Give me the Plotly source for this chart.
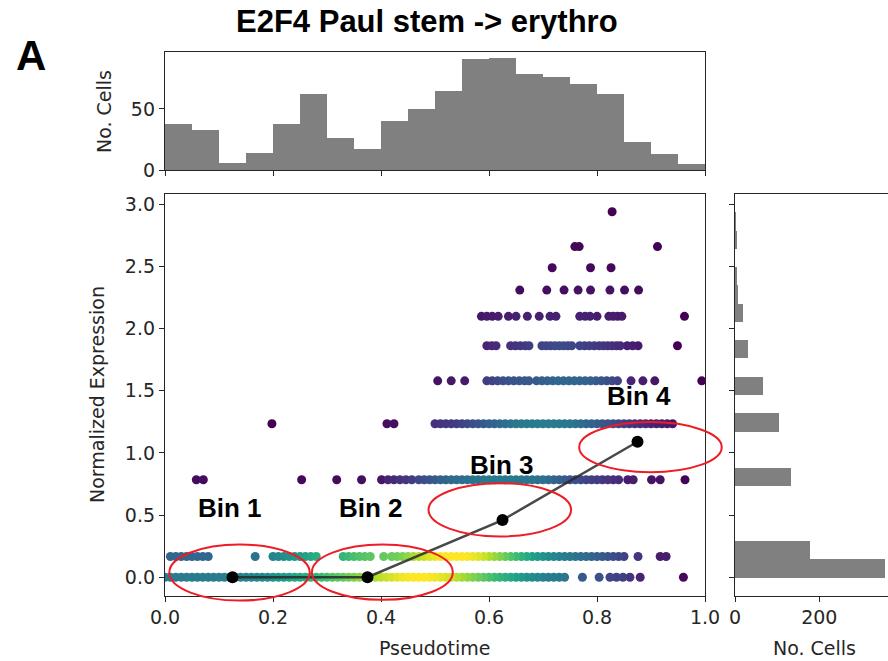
import plotly.graph_objects as go

# ---------------- data ----------------
# Top histogram: cells per pseudotime bin (20 bins over 0..1)
top_bin_left = [0.00, 0.05, 0.10, 0.15, 0.20, 0.25, 0.30, 0.35, 0.40, 0.45,
                0.50, 0.55, 0.60, 0.65, 0.70, 0.75, 0.80, 0.85, 0.90, 0.95]
top_counts = [38, 33, 6, 14, 38, 62, 26, 17, 40, 50,
              65, 91, 92, 79, 76, 70, 62, 23, 13, 5]

# Right histogram: cells per expression bin (20 bins over 0..2.94)
right_bin_left = [0.000, 0.147, 0.294, 0.441, 0.588, 0.735, 0.882, 1.029, 1.176, 1.323,
                  1.470, 1.617, 1.764, 1.911, 2.058, 2.205, 2.352, 2.499, 2.646, 2.793]
right_counts = [355, 178, 0, 0, 0, 132, 0, 0, 105, 0,
                66, 0, 32, 0, 18, 8, 3, 0, 3, 1]

# Scatter: expression levels and pseudotime positions / density colour per level
lvl_0 = 0.0
x_0 = [0.00, 0.01, 0.02, 0.03, 0.04, 0.05, 0.06, 0.07, 0.08, 0.09,
       0.10, 0.11, 0.12, 0.13, 0.14, 0.15, 0.16, 0.17, 0.18, 0.19,
       0.20, 0.21, 0.22, 0.23, 0.24, 0.25, 0.26, 0.27, 0.28, 0.29,
       0.30, 0.31, 0.32, 0.33, 0.34, 0.35, 0.36, 0.37, 0.38, 0.39,
       0.40, 0.41, 0.42, 0.43, 0.44, 0.45, 0.46, 0.47, 0.48, 0.49,
       0.50, 0.51, 0.52, 0.53, 0.54, 0.55, 0.56, 0.57, 0.58, 0.59,
       0.60, 0.61, 0.62, 0.63, 0.64, 0.65, 0.66, 0.67, 0.68, 0.69,
       0.70, 0.71, 0.72, 0.73, 0.74,
       0.773, 0.804, 0.824, 0.836, 0.848, 0.861, 0.880, 0.960]
c_0 = [0.42, 0.42, 0.42, 0.42, 0.42, 0.42, 0.42, 0.42, 0.42, 0.42,
       0.43, 0.43, 0.44, 0.44, 0.45, 0.45, 0.46, 0.46, 0.47, 0.48,
       0.50, 0.52, 0.54, 0.56, 0.58, 0.60, 0.62, 0.64, 0.66, 0.68,
       0.70, 0.72, 0.74, 0.76, 0.78, 0.80, 0.82, 0.84, 0.86, 0.88,
       0.90, 0.92, 0.94, 0.96, 0.98, 0.99, 1.00, 1.00, 1.00, 0.99,
       0.98, 0.96, 0.94, 0.92, 0.89, 0.86, 0.83, 0.80, 0.77, 0.74,
       0.71, 0.68, 0.65, 0.62, 0.59, 0.56, 0.53, 0.50, 0.48, 0.46,
       0.44, 0.42, 0.41, 0.40, 0.39,
       0.28, 0.25, 0.21, 0.20, 0.19, 0.15, 0.10, 0.02]

lvl_1 = 0.167
x_1 = [0.01, 0.02, 0.03, 0.04, 0.05, 0.06, 0.07, 0.08,
       0.167,
       0.20, 0.21, 0.22, 0.23, 0.24, 0.25, 0.26, 0.27, 0.28,
       0.33, 0.34, 0.35, 0.36, 0.37, 0.38,
       0.405, 0.42,
       0.43, 0.44, 0.45, 0.46, 0.47, 0.48, 0.49, 0.50, 0.51, 0.52,
       0.53, 0.54, 0.55, 0.56, 0.57, 0.58, 0.59, 0.60, 0.61, 0.62,
       0.63, 0.64, 0.65, 0.66, 0.67, 0.68, 0.69, 0.70, 0.71, 0.72,
       0.73, 0.74, 0.75, 0.76, 0.77, 0.78, 0.79, 0.80, 0.81, 0.82,
       0.83, 0.84, 0.85,
       0.876, 0.917, 0.928]
c_1 = [0.33, 0.33, 0.33, 0.33, 0.33, 0.33, 0.33, 0.33,
       0.38,
       0.45, 0.47, 0.49, 0.51, 0.53, 0.55, 0.57, 0.59, 0.61,
       0.66, 0.68, 0.70, 0.72, 0.73, 0.74,
       0.76, 0.77,
       0.78, 0.80, 0.83, 0.86, 0.89, 0.92, 0.95, 0.97, 0.99, 1.00,
       1.00, 1.00, 1.00, 0.99, 0.97, 0.95, 0.92, 0.88, 0.84, 0.80,
       0.76, 0.72, 0.68, 0.64, 0.60, 0.56, 0.53, 0.50, 0.48, 0.46,
       0.44, 0.42, 0.40, 0.38, 0.36, 0.34, 0.32, 0.30, 0.28, 0.26,
       0.24, 0.22, 0.20,
       0.15, 0.08, 0.08]

lvl_2 = 0.784
x_2 = [0.058, 0.071, 0.253, 0.318, 0.364, 0.401,
       0.413, 0.424, 0.435, 0.446, 0.457,
       0.47, 0.48, 0.49, 0.50, 0.51, 0.52, 0.53, 0.54, 0.55, 0.56,
       0.57, 0.58, 0.59, 0.60, 0.61, 0.62, 0.63, 0.64, 0.65, 0.66,
       0.67, 0.68, 0.69, 0.70, 0.71, 0.72, 0.73, 0.74, 0.75, 0.76,
       0.77, 0.78, 0.79, 0.80, 0.81, 0.82, 0.83, 0.84,
       0.857, 0.867, 0.901, 0.917, 0.963]
c_2 = [0.03, 0.03, 0.02, 0.03, 0.04, 0.06,
       0.10, 0.12, 0.14, 0.16, 0.18,
       0.22, 0.24, 0.26, 0.28, 0.30, 0.32, 0.34, 0.35, 0.36, 0.37,
       0.38, 0.39, 0.40, 0.40, 0.41, 0.41, 0.41, 0.41, 0.40, 0.40,
       0.39, 0.38, 0.37, 0.36, 0.34, 0.32, 0.30, 0.28, 0.26, 0.24,
       0.22, 0.20, 0.19, 0.18, 0.16, 0.15, 0.13, 0.12,
       0.08, 0.08, 0.05, 0.05, 0.01]

lvl_3 = 1.235
x_3 = [0.198, 0.411, 0.424,
       0.50, 0.51, 0.52, 0.53, 0.54, 0.55, 0.56, 0.57, 0.58, 0.59,
       0.60, 0.61, 0.62, 0.63, 0.64, 0.65, 0.66, 0.67, 0.68, 0.69,
       0.70, 0.71, 0.72, 0.73, 0.74, 0.75, 0.76, 0.77, 0.78, 0.79,
       0.80, 0.81, 0.82, 0.83, 0.84, 0.85, 0.86, 0.87, 0.88, 0.89,
       0.90, 0.91, 0.92, 0.93, 0.94]
c_3 = [0.00, 0.04, 0.04,
       0.14, 0.15, 0.16, 0.17, 0.18, 0.20, 0.22, 0.24, 0.26, 0.28,
       0.30, 0.32, 0.34, 0.36, 0.38, 0.39, 0.40, 0.41, 0.41, 0.42,
       0.42, 0.42, 0.41, 0.41, 0.40, 0.39, 0.37, 0.35, 0.33, 0.31,
       0.29, 0.27, 0.25, 0.23, 0.21, 0.19, 0.17, 0.15, 0.13, 0.11,
       0.10, 0.09, 0.08, 0.07, 0.06]

lvl_4 = 1.58
x_4 = [0.505, 0.530, 0.555,
       0.596, 0.606, 0.616, 0.626, 0.636, 0.646, 0.656, 0.666, 0.674,
       0.688, 0.698, 0.708, 0.718, 0.728, 0.738, 0.748, 0.758,
       0.768, 0.778, 0.788, 0.798, 0.808, 0.818, 0.828, 0.838,
       0.863, 0.885, 0.907, 0.994]
c_4 = [0.05, 0.06, 0.07,
       0.18, 0.20, 0.22, 0.24, 0.25, 0.26, 0.27, 0.28, 0.28,
       0.29, 0.30, 0.31, 0.32, 0.33, 0.33, 0.33, 0.33,
       0.32, 0.31, 0.30, 0.28, 0.26, 0.24, 0.22, 0.20,
       0.10, 0.08, 0.06, 0.00]

lvl_5 = 1.862
x_5 = [0.596, 0.605, 0.613, 0.640, 0.649, 0.658, 0.667, 0.674,
       0.698, 0.706, 0.714, 0.722, 0.730, 0.738, 0.746, 0.753,
       0.768, 0.777, 0.786, 0.795, 0.804, 0.812, 0.820, 0.828, 0.836, 0.843,
       0.856, 0.866, 0.876, 0.949]
c_5 = [0.10, 0.11, 0.12, 0.14, 0.15, 0.16, 0.17, 0.18,
       0.20, 0.21, 0.22, 0.23, 0.23, 0.23, 0.22, 0.21,
       0.20, 0.19, 0.18, 0.17, 0.16, 0.15, 0.14, 0.13, 0.12, 0.11,
       0.09, 0.08, 0.07, 0.00]

lvl_6 = 2.099
x_6 = [0.586, 0.596, 0.606, 0.617, 0.636, 0.650, 0.671, 0.693, 0.713, 0.724,
       0.768, 0.778, 0.787, 0.800, 0.822, 0.830, 0.838, 0.846, 0.962]
c_6 = [0.06, 0.07, 0.07, 0.08, 0.08, 0.09, 0.09, 0.09, 0.09, 0.09,
       0.09, 0.09, 0.09, 0.08, 0.08, 0.08, 0.07, 0.07, 0.00]

lvl_7 = 2.31
x_7 = [0.657, 0.707, 0.739, 0.765, 0.788, 0.824, 0.851, 0.877]
c_7 = [0.03, 0.04, 0.04, 0.05, 0.05, 0.05, 0.04, 0.03]

lvl_8 = 2.49
x_8 = [0.717, 0.788, 0.826]
c_8 = [0.02, 0.02, 0.02]

lvl_9 = 2.66
x_9 = [0.759, 0.767, 0.912]
c_9 = [0.01, 0.01, 0.00]

lvl_10 = 2.94
x_10 = [0.828]
c_10 = [0.00]

# Bin summary (pseudotime bin centres and mean expression)
bin_names = ["Bin 1", "Bin 2", "Bin 3", "Bin 4"]
bin_x = [0.125, 0.375, 0.625, 0.875]
bin_y = [0.0, 0.0, 0.46, 1.09]

# ---------------- assemble ----------------
rows = [(lvl_0, x_0, c_0), (lvl_1, x_1, c_1), (lvl_2, x_2, c_2), (lvl_3, x_3, c_3),
        (lvl_4, x_4, c_4), (lvl_5, x_5, c_5), (lvl_6, x_6, c_6), (lvl_7, x_7, c_7),
        (lvl_8, x_8, c_8), (lvl_9, x_9, c_9), (lvl_10, x_10, c_10)]
pts = []
for lv, xs, cs in rows:
    for xv, cv in zip(xs, cs):
        pts.append((cv, xv, lv))
pts.sort()  # densest drawn last
sc_c = [p[0] for p in pts]
sc_x = [p[1] for p in pts]
sc_y = [p[2] for p in pts]

W, H = 888, 661
X_RANGE = [0.0, 1.0]
Y_RANGE = [-0.147, 3.087]
TOP_RANGE = [0, 96.6]
RIGHT_RANGE = [0, 363]

main_x_dom = [165 / W, 705 / W]
main_y_dom = [1 - 595.5 / H, 1 - 193.5 / H]
top_y_dom = [1 - 170 / H, 1 - 52 / H]
right_x_dom = [735 / W, 1.0]

AX = "#262626"
FONT = "DejaVu Sans"
FS = 19
GRAY = "#808080"

fig = go.Figure()

fig.add_trace(go.Scatter(
    x=sc_x, y=sc_y, mode="markers", xaxis="x", yaxis="y",
    marker=dict(size=9, color=sc_c, colorscale="Viridis", cmin=0, cmax=1,
                line=dict(width=0)),
    showlegend=False, hoverinfo="skip"))

fig.add_trace(go.Scatter(
    x=bin_x, y=bin_y, mode="lines+markers", xaxis="x", yaxis="y",
    line=dict(color="rgba(40,40,40,0.85)", width=2.5),
    marker=dict(size=12, color="black"),
    showlegend=False, hoverinfo="skip"))

top_w = [0.05] * len(top_bin_left)
fig.add_trace(go.Bar(
    x=[l + w / 2 for l, w in zip(top_bin_left, top_w)], y=top_counts, width=top_w,
    xaxis="x2", yaxis="y2", marker=dict(color=GRAY, line=dict(width=0)),
    showlegend=False, hoverinfo="skip"))

right_w = [0.147] * len(right_bin_left)
fig.add_trace(go.Bar(
    y=[l + w / 2 for l, w in zip(right_bin_left, right_w)], x=right_counts, width=right_w,
    orientation="h", xaxis="x3", yaxis="y3",
    marker=dict(color=GRAY, line=dict(width=0)),
    showlegend=False, hoverinfo="skip"))

axis_common = dict(showline=True, linecolor=AX, linewidth=1.3, mirror=True,
                   ticks="outside", ticklen=5, tickwidth=1.3, tickcolor=AX,
                   showgrid=False, zeroline=False, automargin=False,
                   tickfont=dict(family=FONT, size=FS, color=AX))

fig.update_layout(
    width=W, height=H, margin=dict(l=0, r=0, t=0, b=0, autoexpand=False),
    paper_bgcolor="white", plot_bgcolor="white", bargap=0,
    xaxis=dict(domain=main_x_dom, range=X_RANGE, anchor="y",
               tickvals=[0, 0.2, 0.4, 0.6, 0.8, 1.0], tickformat=".1f", **axis_common),
    yaxis=dict(domain=main_y_dom, range=Y_RANGE, anchor="x",
               tickvals=[0, 0.5, 1.0, 1.5, 2.0, 2.5, 3.0], tickformat=".1f", **axis_common),
    xaxis2=dict(domain=main_x_dom, range=X_RANGE, anchor="y2",
                tickvals=[0, 0.2, 0.4, 0.6, 0.8, 1.0], showticklabels=False, **axis_common),
    yaxis2=dict(domain=top_y_dom, range=TOP_RANGE, anchor="x2",
                tickvals=[0, 50], **axis_common),
    xaxis3=dict(domain=right_x_dom, range=RIGHT_RANGE, anchor="y3",
                tickvals=[0, 200], **axis_common),
    yaxis3=dict(domain=main_y_dom, range=Y_RANGE, anchor="x3",
                tickvals=[0, 0.5, 1.0, 1.5, 2.0, 2.5, 3.0], showticklabels=False, **axis_common),
)


def fx(v):
    return (v - X_RANGE[0]) / (X_RANGE[1] - X_RANGE[0])


def fy(v):
    return (v - Y_RANGE[0]) / (Y_RANGE[1] - Y_RANGE[0])


# red ellipses around each bin (data coords)
ellipses = [(0.008, 0.268, -0.188, 0.263),
            (0.272, 0.533, -0.182, 0.263),
            (0.488, 0.752, 0.328, 0.757),
            (0.767, 1.031, 0.845, 1.248)]
for x0, x1, y0, y1 in ellipses:
    fig.add_shape(type="circle", xref="x domain", yref="y domain",
                  x0=fx(x0), x1=fx(x1), y0=fy(y0), y1=fy(y1),
                  line=dict(color="#ee1c25", width=2), layer="above")

label_pos = [(0.120, 0.553), (0.381, 0.553), (0.624, 0.899), (0.878, 1.455)]
for name, (lx, ly) in zip(bin_names, label_pos):
    fig.add_annotation(x=lx, y=ly, xref="x", yref="y", text=name, showarrow=False,
                       font=dict(family="Liberation Sans, Arial", size=26, color="black",
                                 weight="bold"),
                       xanchor="center", yanchor="middle")

def ann(text, px, py, size=FS, angle=0, family=FONT, color=AX, bold=False):
    fig.add_annotation(x=px / W, y=1 - py / H, xref="paper", yref="paper", text=text,
                       showarrow=False, textangle=angle, xanchor="center", yanchor="middle",
                       font=dict(family=family, size=size, color=color,
                                 weight="bold" if bold else "normal"))

ann("E2F4 Paul stem -&gt; erythro", 427, 22, size=31, family="Liberation Sans, Arial",
    color="black", bold=True)
ann("A", 31, 55, size=42, family="Liberation Sans, Arial", color="black", bold=True)
ann("Pseudotime", 434, 648)
ann("Normalized Expression", 97, 395, angle=-90)
ann("No. Cells", 104, 112, angle=-90)
ann("No. Cells", 814, 648)

fig.write_html("out.html")
